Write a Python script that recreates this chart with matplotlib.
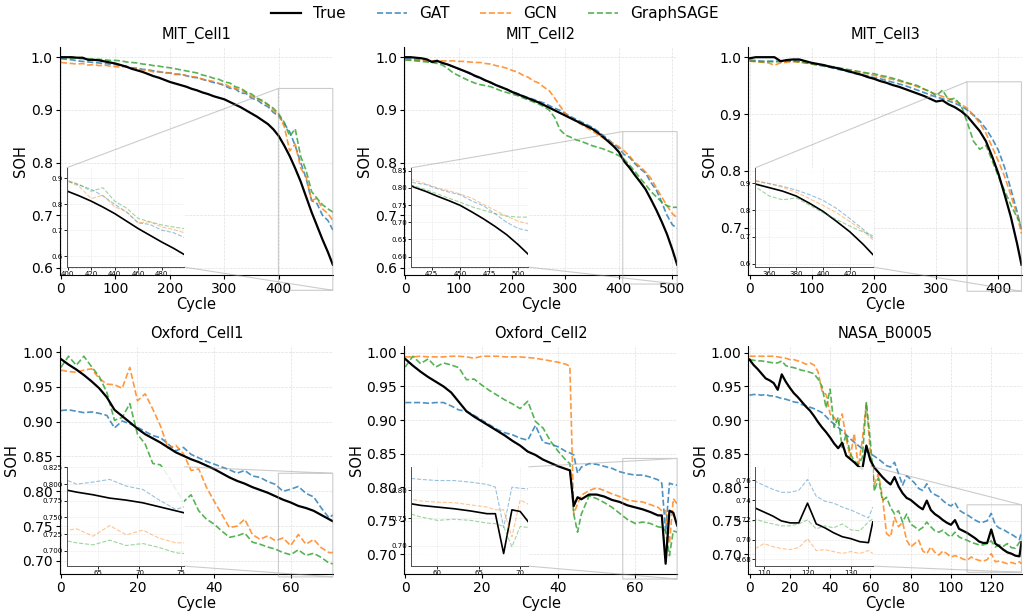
import numpy as np
import matplotlib
matplotlib.use('Agg')
import matplotlib.pyplot as plt
from matplotlib.ticker import MultipleLocator

SERIES = ['True', 'GAT', 'GCN', 'GraphSAGE']
COLORS = {'True': 'black', 'GAT': 'tab:blue', 'GCN': 'tab:orange', 'GraphSAGE': 'tab:green'}

# --- MIT_Cell1 ---
mit1_cycle = list(range(0, 500, 10)) + [499]
mit1_true = [1.000, 1.000, 1.000, 0.999, 0.999, 0.995, 0.995, 0.994, 0.992, 0.990, 0.988,
             0.985, 0.982, 0.978, 0.975, 0.972, 0.968, 0.964, 0.961, 0.957, 0.953,
             0.950, 0.947, 0.944, 0.940, 0.937, 0.933, 0.930, 0.926, 0.923, 0.920,
             0.915, 0.910, 0.905, 0.899, 0.893, 0.887, 0.880, 0.873, 0.863, 0.850,
             0.832, 0.812, 0.789, 0.764, 0.735, 0.706, 0.680, 0.654, 0.630, 0.606]
mit1_gat = [0.997, 0.996, 0.995, 0.993, 0.992, 0.991, 0.990, 0.989, 0.988, 0.987, 0.986,
            0.984, 0.982, 0.980, 0.979, 0.977, 0.976, 0.974, 0.972, 0.971, 0.970,
            0.968, 0.967, 0.965, 0.962, 0.961, 0.958, 0.955, 0.952, 0.950, 0.946,
            0.941, 0.940, 0.932, 0.931, 0.922, 0.919, 0.911, 0.906, 0.895, 0.888,
            0.874, 0.858, 0.832, 0.800, 0.770, 0.728, 0.722, 0.700, 0.690, 0.672]
mit1_gcn = [0.990, 0.989, 0.988, 0.987, 0.988, 0.985, 0.986, 0.984, 0.985, 0.983, 0.982,
            0.981, 0.983, 0.979, 0.978, 0.976, 0.975, 0.972, 0.973, 0.970, 0.970,
            0.967, 0.968, 0.965, 0.963, 0.962, 0.958, 0.956, 0.954, 0.950, 0.949,
            0.944, 0.941, 0.937, 0.933, 0.926, 0.922, 0.915, 0.910, 0.899, 0.890,
            0.868, 0.822, 0.835, 0.790, 0.772, 0.728, 0.732, 0.712, 0.703, 0.690]
mit1_sage = [1.000, 0.999, 0.998, 0.998, 0.997, 0.997, 0.996, 0.996, 0.995, 0.994, 0.994,
             0.993, 0.991, 0.990, 0.989, 0.987, 0.986, 0.984, 0.983, 0.981, 0.980,
             0.978, 0.976, 0.974, 0.972, 0.970, 0.966, 0.964, 0.960, 0.958, 0.953,
             0.951, 0.944, 0.941, 0.934, 0.930, 0.922, 0.918, 0.910, 0.903, 0.892,
             0.876, 0.850, 0.864, 0.812, 0.785, 0.745, 0.732, 0.720, 0.712, 0.706]

# --- MIT_Cell2 ---
mit2_cycle = list(range(0, 510, 10)) + [509]
mit2_true = [1.000, 1.000, 0.999, 0.998, 0.996, 0.991, 0.993, 0.989, 0.986, 0.982, 0.978,
             0.974, 0.970, 0.965, 0.961, 0.956, 0.952, 0.947, 0.943, 0.939, 0.934,
             0.930, 0.926, 0.922, 0.918, 0.914, 0.909, 0.904, 0.899, 0.894, 0.889,
             0.884, 0.879, 0.874, 0.869, 0.864, 0.857, 0.849, 0.840, 0.831, 0.820,
             0.802, 0.790, 0.776, 0.763, 0.749, 0.730, 0.710, 0.688, 0.664, 0.635, 0.606]
mit2_gat = [0.998, 0.997, 0.996, 0.995, 0.994, 0.993, 0.991, 0.989, 0.986, 0.982, 0.978,
            0.974, 0.969, 0.964, 0.960, 0.956, 0.951, 0.947, 0.943, 0.939, 0.935,
            0.931, 0.927, 0.923, 0.920, 0.916, 0.913, 0.908, 0.903, 0.899, 0.893,
            0.887, 0.882, 0.877, 0.872, 0.867, 0.860, 0.852, 0.844, 0.835, 0.827,
            0.815, 0.810, 0.798, 0.788, 0.780, 0.762, 0.748, 0.725, 0.700, 0.682, 0.675]
mit2_gcn = [0.995, 0.995, 0.994, 0.994, 0.993, 0.993, 0.994, 0.993, 0.993, 0.993, 0.992,
            0.992, 0.991, 0.990, 0.990, 0.988, 0.987, 0.984, 0.982, 0.979, 0.975,
            0.972, 0.966, 0.962, 0.955, 0.951, 0.943, 0.936, 0.922, 0.907, 0.893,
            0.885, 0.878, 0.872, 0.866, 0.860, 0.853, 0.847, 0.841, 0.836, 0.830,
            0.822, 0.812, 0.800, 0.792, 0.782, 0.770, 0.752, 0.735, 0.718, 0.703, 0.695]
mit2_sage = [0.995, 0.994, 0.993, 0.992, 0.991, 0.990, 0.988, 0.985, 0.978, 0.970, 0.965,
             0.960, 0.955, 0.951, 0.948, 0.946, 0.944, 0.940, 0.936, 0.933, 0.930,
             0.927, 0.923, 0.919, 0.915, 0.911, 0.906, 0.899, 0.885, 0.862, 0.852,
             0.848, 0.843, 0.840, 0.836, 0.832, 0.829, 0.826, 0.822, 0.818, 0.813,
             0.806, 0.795, 0.783, 0.770, 0.758, 0.745, 0.735, 0.725, 0.718, 0.715, 0.715]

# --- MIT_Cell3 ---
mit3_cycle = list(range(0, 440, 10)) + [437]
mit3_true = [0.998, 1.000, 1.000, 1.000, 1.000, 0.993, 0.995, 0.996, 0.996, 0.993, 0.990,
             0.988, 0.986, 0.983, 0.981, 0.978, 0.975, 0.972, 0.969, 0.965, 0.962,
             0.958, 0.955, 0.951, 0.948, 0.944, 0.940, 0.936, 0.932, 0.927, 0.922,
             0.924, 0.917, 0.912, 0.905, 0.896, 0.883, 0.870, 0.852, 0.825, 0.795,
             0.758, 0.719, 0.672, 0.635]
mit3_gat = [0.995, 0.994, 0.993, 0.993, 0.993, 0.992, 0.993, 0.994, 0.993, 0.991, 0.988,
            0.986, 0.984, 0.982, 0.979, 0.977, 0.974, 0.971, 0.969, 0.967, 0.964,
            0.962, 0.959, 0.956, 0.953, 0.950, 0.946, 0.942, 0.938, 0.934, 0.930,
            0.927, 0.923, 0.919, 0.914, 0.907, 0.898, 0.888, 0.874, 0.857, 0.836,
            0.806, 0.768, 0.728, 0.697]
mit3_gcn = [0.993, 0.992, 0.991, 0.990, 0.986, 0.990, 0.991, 0.992, 0.991, 0.990, 0.988,
            0.987, 0.985, 0.983, 0.981, 0.979, 0.977, 0.975, 0.973, 0.971, 0.968,
            0.966, 0.963, 0.961, 0.958, 0.955, 0.952, 0.948, 0.944, 0.939, 0.935,
            0.931, 0.927, 0.923, 0.917, 0.910, 0.898, 0.884, 0.866, 0.842, 0.817,
            0.790, 0.757, 0.722, 0.690]
mit3_sage = [0.993, 0.993, 0.992, 0.992, 0.992, 0.993, 0.993, 0.993, 0.992, 0.990, 0.988,
             0.987, 0.985, 0.984, 0.982, 0.980, 0.978, 0.976, 0.974, 0.972, 0.971,
             0.968, 0.966, 0.963, 0.960, 0.956, 0.953, 0.950, 0.944, 0.940, 0.932,
             0.942, 0.925, 0.928, 0.915, 0.885, 0.852, 0.838, 0.845, 0.818, 0.790,
             0.765, 0.740, 0.718, 0.705]

# --- Oxford_Cell1 ---
ox1_cycle = list(range(0, 72, 2)) + [71]
ox1_true = [0.990, 0.982, 0.975, 0.967, 0.958, 0.948, 0.935, 0.917, 0.908, 0.899,
            0.890, 0.882, 0.876, 0.870, 0.863, 0.856, 0.851, 0.846, 0.842, 0.837,
            0.832, 0.826, 0.820, 0.815, 0.811, 0.806, 0.802, 0.798, 0.793, 0.788,
            0.784, 0.779, 0.776, 0.772, 0.766, 0.760, 0.757]
ox1_gat = [0.916, 0.917, 0.915, 0.913, 0.914, 0.912, 0.909, 0.891, 0.901, 0.897,
           0.892, 0.886, 0.880, 0.877, 0.868, 0.858, 0.863, 0.853, 0.848, 0.843,
           0.839, 0.835, 0.831, 0.826, 0.830, 0.822, 0.820, 0.814, 0.810, 0.800,
           0.803, 0.807, 0.797, 0.792, 0.776, 0.762, 0.766]
ox1_gcn = [0.974, 0.972, 0.971, 0.974, 0.976, 0.962, 0.954, 0.953, 0.948, 0.978,
           0.930, 0.940, 0.918, 0.894, 0.862, 0.866, 0.854, 0.830, 0.832, 0.806,
           0.786, 0.767, 0.748, 0.750, 0.760, 0.738, 0.731, 0.736, 0.729, 0.733,
           0.722, 0.738, 0.724, 0.731, 0.719, 0.712, 0.712]
ox1_sage = [0.978, 0.994, 0.981, 0.994, 0.979, 0.965, 0.942, 0.902, 0.906, 0.926,
            0.882, 0.868, 0.840, 0.838, 0.822, 0.803, 0.785, 0.795, 0.772, 0.760,
            0.753, 0.743, 0.734, 0.736, 0.740, 0.727, 0.724, 0.720, 0.717, 0.712,
            0.709, 0.716, 0.708, 0.711, 0.705, 0.697, 0.696]

# --- Oxford_Cell2 ---
ox2_cycle = sorted(list(range(0, 44, 2)) + [43, 44, 45] + list(range(46, 68, 2))
                   + [67, 68, 69, 70, 71])
ox2_true = [0.991, 0.981, 0.972, 0.964, 0.957, 0.950, 0.941, 0.927, 0.913, 0.905,
            0.898, 0.891, 0.884, 0.877, 0.869, 0.862, 0.853, 0.848, 0.841, 0.836,
            0.831, 0.827, 0.825, 0.772, 0.785, 0.782, 0.789, 0.789, 0.786, 0.781,
            0.778, 0.773, 0.770, 0.767, 0.763, 0.758, 0.758, 0.686, 0.765, 0.762, 0.743]
ox2_gat = [0.926, 0.926, 0.926, 0.925, 0.926, 0.926, 0.921, 0.915, 0.913, 0.907,
           0.900, 0.893, 0.886, 0.881, 0.878, 0.873, 0.870, 0.892, 0.867, 0.864,
           0.860, 0.853, 0.851, 0.848, 0.821, 0.830, 0.835, 0.834, 0.831, 0.828,
           0.823, 0.820, 0.818, 0.818, 0.815, 0.811, 0.806, 0.733, 0.806, 0.804, 0.803]
ox2_gcn = [0.994, 0.994, 0.995, 0.994, 0.994, 0.994, 0.995, 0.995, 0.994, 0.992,
           0.995, 0.995, 0.995, 0.994, 0.994, 0.994, 0.993, 0.992, 0.990, 0.988,
           0.986, 0.983, 0.980, 0.760, 0.775, 0.788, 0.795, 0.799, 0.795, 0.790,
           0.786, 0.781, 0.779, 0.778, 0.774, 0.770, 0.765, 0.765, 0.716, 0.783, 0.775]
ox2_sage = [0.979, 0.995, 0.984, 0.991, 0.979, 0.985, 0.982, 0.978, 0.960, 0.961,
            0.952, 0.944, 0.937, 0.930, 0.924, 0.917, 0.928, 0.898, 0.888, 0.868,
            0.853, 0.840, 0.835, 0.760, 0.733, 0.760, 0.787, 0.783, 0.777, 0.770,
            0.761, 0.752, 0.746, 0.748, 0.746, 0.741, 0.740, 0.735, 0.698, 0.735, 0.733]

# --- NASA_B0005 ---
nasa_cycle = list(range(0, 136, 2)) + [135]
nasa_true = [0.990, 0.982, 0.976, 0.969, 0.962, 0.959, 0.955, 0.945, 0.968, 0.957,
             0.948, 0.940, 0.934, 0.927, 0.920, 0.914, 0.906, 0.897, 0.889, 0.882,
             0.874, 0.865, 0.858, 0.866, 0.847, 0.842, 0.837, 0.831, 0.827, 0.862,
             0.840, 0.829, 0.822, 0.815, 0.809, 0.804, 0.815, 0.801, 0.791, 0.784,
             0.781, 0.776, 0.771, 0.767, 0.780, 0.766, 0.760, 0.756, 0.751, 0.747,
             0.744, 0.751, 0.738, 0.735, 0.732, 0.728, 0.724, 0.719, 0.717, 0.717,
             0.737, 0.716, 0.712, 0.707, 0.703, 0.701, 0.698, 0.697, 0.718]
nasa_gat = [0.937, 0.938, 0.938, 0.937, 0.938, 0.936, 0.936, 0.934, 0.932, 0.931,
            0.929, 0.927, 0.926, 0.923, 0.921, 0.919, 0.917, 0.914, 0.911, 0.905,
            0.899, 0.894, 0.889, 0.884, 0.878, 0.872, 0.867, 0.862, 0.857, 0.853,
            0.850, 0.846, 0.842, 0.837, 0.832, 0.830, 0.837, 0.820, 0.803, 0.817,
            0.812, 0.806, 0.798, 0.795, 0.805, 0.793, 0.789, 0.786, 0.780, 0.775,
            0.772, 0.777, 0.766, 0.762, 0.759, 0.755, 0.751, 0.748, 0.748, 0.750,
            0.761, 0.744, 0.739, 0.737, 0.733, 0.730, 0.726, 0.722, 0.733]
nasa_gcn = [0.995, 0.995, 0.995, 0.995, 0.995, 0.995, 0.995, 0.994, 0.993, 0.992,
            0.990, 0.990, 0.988, 0.986, 0.983, 0.985, 0.982, 0.972, 0.943, 0.938,
            0.909, 0.904, 0.894, 0.909, 0.872, 0.845, 0.880, 0.830, 0.870, 0.925,
            0.850, 0.805, 0.820, 0.785, 0.731, 0.726, 0.755, 0.741, 0.748, 0.721,
            0.711, 0.716, 0.721, 0.705, 0.701, 0.711, 0.703, 0.699, 0.705, 0.701,
            0.696, 0.698, 0.696, 0.693, 0.691, 0.696, 0.693, 0.691, 0.690, 0.692,
            0.701, 0.689, 0.690, 0.688, 0.686, 0.688, 0.686, 0.689, 0.686]
nasa_sage = [0.990, 0.989, 0.988, 0.988, 0.987, 0.986, 0.985, 0.985, 0.988, 0.981,
             0.979, 0.978, 0.976, 0.974, 0.973, 0.971, 0.969, 0.961, 0.950, 0.918,
             0.946, 0.889, 0.904, 0.859, 0.879, 0.850, 0.839, 0.834, 0.844, 0.926,
             0.868, 0.794, 0.814, 0.780, 0.785, 0.770, 0.760, 0.765, 0.748, 0.760,
             0.745, 0.741, 0.736, 0.740, 0.748, 0.741, 0.735, 0.733, 0.736, 0.730,
             0.726, 0.733, 0.726, 0.723, 0.721, 0.718, 0.716, 0.714, 0.714, 0.716,
             0.720, 0.711, 0.714, 0.712, 0.716, 0.710, 0.709, 0.718, 0.721]

panel_titles = ['MIT_Cell1', 'MIT_Cell2', 'MIT_Cell3', 'Oxford_Cell1', 'Oxford_Cell2', 'NASA_B0005']
panel_cycles = [mit1_cycle, mit2_cycle, mit3_cycle, ox1_cycle, ox2_cycle, nasa_cycle]
panel_curves = [
    [mit1_true, mit1_gat, mit1_gcn, mit1_sage],
    [mit2_true, mit2_gat, mit2_gcn, mit2_sage],
    [mit3_true, mit3_gat, mit3_gcn, mit3_sage],
    [ox1_true, ox1_gat, ox1_gcn, ox1_sage],
    [ox2_true, ox2_gat, ox2_gcn, ox2_sage],
    [nasa_true, nasa_gat, nasa_gcn, nasa_sage],
]
x_tick_step = [100, 100, 100, 20, 20, 20]
# the Oxford_Cell1 zoom panel is labelled with an offset cycle axis in the original
inset_shift = [0, 0, 0, 4.4, 0, 0]


def draw_panel(ax, title, cycles, curves, step, shift):
    x = np.asarray(cycles, dtype=float)
    curves = [np.asarray(c) for c in curves]

    for name, y in zip(SERIES, curves):
        if name == 'True':
            ax.plot(x, y, color='black', lw=1.6, label=name, zorder=3)
        else:
            ax.plot(x, y, color=COLORS[name], ls='--', lw=1.2, alpha=0.8, label=name)

    xmax = x[-1]
    allv = np.concatenate(curves)
    lo, hi = allv.min(), allv.max()
    pad = 0.05 * (hi - lo)
    xlims = (-0.004 * xmax, 1.001 * xmax)
    ylims = (lo - pad, hi + pad)

    ax.set_title(title, fontsize=10.5)
    ax.set_xlabel('Cycle', fontsize=10.5, labelpad=1)
    ax.set_ylabel('SOH', fontsize=10.5, labelpad=2)
    ax.xaxis.set_major_locator(MultipleLocator(step))
    ax.tick_params(labelsize=10, length=3, pad=2)
    ax.grid(True, ls='--', lw=0.5, color='0.88')
    ax.spines['top'].set_visible(False)
    ax.spines['right'].set_visible(False)

    # zoomed inset on the last 20% of cycles
    x0 = 0.8 * xmax
    sel = x >= x0
    vals = np.concatenate([c[sel] for c in curves])
    ilo, ihi = vals.min(), vals.max()
    ipad = 0.17 * (ihi - ilo)

    ins = ax.inset_axes([0.025, 0.035, 0.43, 0.435])
    ins.set_facecolor((1, 1, 1, 0.88))
    for name, y in zip(SERIES, curves):
        if name == 'True':
            ins.plot(x + shift, y, color='black', lw=1.2)
        else:
            ins.plot(x + shift, y, color=COLORS[name], ls='--', lw=0.8, alpha=0.45)
    ins.set_xlim(x0 + shift, xmax + shift)
    ins.set_ylim(ilo - ipad, ihi + ipad)
    ins.tick_params(labelsize=5, length=2, pad=1, width=0.6)
    ins.grid(True, ls='--', lw=0.4, color='0.9')
    ins.spines['top'].set_visible(False)
    ins.spines['right'].set_visible(False)
    for s in ['left', 'bottom']:
        ins.spines[s].set_linewidth(0.7)
        ins.spines[s].set_color('0.3')

    ax.indicate_inset([x0, ilo - ipad, xmax - x0, ihi - ilo + 2 * ipad], inset_ax=ins,
                      edgecolor='0.6', alpha=0.5, linewidth=0.8)
    ax.set_xlim(*xlims)
    ax.set_ylim(*ylims)


def main():
    fig, axes = plt.subplots(2, 3, figsize=(10.31, 6.16), dpi=100)
    fig.subplots_adjust(left=0.058, right=0.991, top=0.924, bottom=0.068,
                        wspace=0.26, hspace=0.31)

    for ax, title, cyc, curves, step, shift in zip(axes.flat, panel_titles, panel_cycles,
                                                   panel_curves, x_tick_step, inset_shift):
        draw_panel(ax, title, cyc, curves, step, shift)

    handles, labels = axes[0, 0].get_legend_handles_labels()
    fig.legend(handles, labels, loc='upper center', ncol=4, frameon=False,
               fontsize=11, bbox_to_anchor=(0.48, 1.012))

    fig.savefig('out.png', dpi=100)


if __name__ == '__main__':
    main()
